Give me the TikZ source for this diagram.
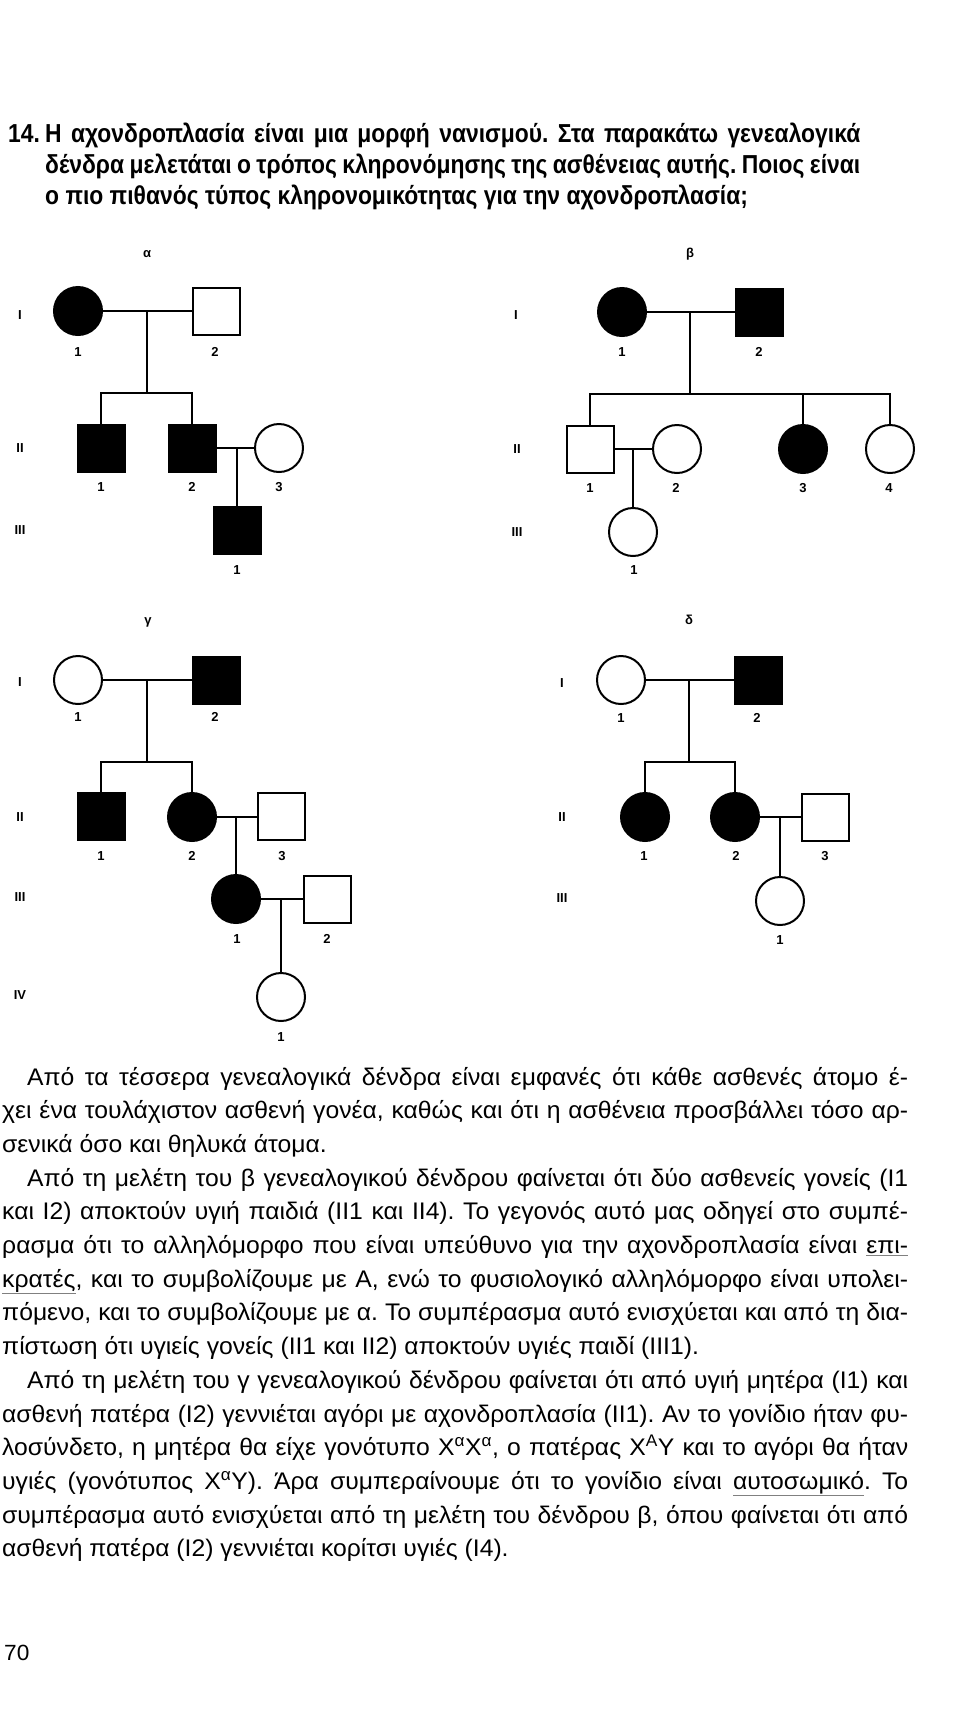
\documentclass[tikz,border=0pt]{standalone}
\usepackage{fontspec}
\usepackage{xcolor}
\usetikzlibrary{calc}
\newfontfamily\titlefont[FakeStretch=0.88]{Liberation Sans}
\newfontfamily\bodyfont[FakeStretch=1.03]{Liberation Sans}
\newfontfamily\labfont{Liberation Sans}
\newcommand\ulg[1]{{\color{gray}\underline{\color{black}#1}}}
\frenchspacing
\begin{document}
\begin{tikzpicture}[x=1pt,y=-1pt,
  pl/.style={line width=2pt},
  fem/.style={circle,draw,line width=2pt,minimum size=48pt,inner sep=0pt},
  mal/.style={rectangle,draw,line width=2pt,minimum size=47pt,inner sep=0pt},
  aff/.style={fill=black},
  una/.style={fill=white},
  num/.style={font=\labfont\bfseries\fontsize{13}{13}\selectfont,inner sep=0pt},
  gen/.style={font=\labfont\bfseries\fontsize{13}{13}\selectfont,inner sep=0pt},
  ttl/.style={font=\titlefont\bfseries\fontsize{26}{26}\selectfont,inner sep=0pt,anchor=base west},
  bdy/.style={font=\bodyfont\fontsize{24}{24}\selectfont,inner sep=0pt,anchor=base west}]
\useasboundingbox (0,0) rectangle (960,1724);
\fill[white] (0,0) rectangle (960,1724);

% ---------- title ----------
\node[ttl] (q0) at (8,142) {14.};
\node[ttl] (q1) at (45,142) {\makebox[815pt][s]{Η αχονδροπλασία είναι μια μορφή νανισμού. Στα παρακάτω γενεαλογικά}};
\node[ttl] (q2) at (45,173) {\makebox[815pt][s]{δένδρα μελετάται ο τρόπος κληρονόμησης της ασθένειας αυτής. Ποιος είναι}};
\node[ttl] (q3) at (45,204) {ο πιο πιθανός τύπος κληρονομικότητας για την αχονδροπλασία;};

% ---------- pedigree alpha ----------
\node[num] (la) at (147,254) {α};
\node[gen] (ga1) at (20,315) {I};
\node[gen] (ga2) at (20,448) {II};
\node[gen] (ga3) at (20,530) {III};
\node[fem,aff] (a11) at (78,311) {};
\node[mal,una] (a12) at (216,311) {};
\node[mal,aff] (a21) at (101,448) {};
\node[mal,aff] (a22) at (192,448) {};
\node[fem,una] (a23) at (279,448) {};
\node[mal,aff] (a31) at (237,530) {};
\coordinate (aM) at (147,311);
\coordinate (aS) at (147,393);
\draw[pl] (a11.east) -- (a12.west);
\draw[pl] (aM) -- (aS);
\draw[pl] (a21.north) |- (aS) -| (a22.north);
\draw[pl] (a22.east) -- (a23.west);
\draw[pl] (a31.north) -- (a31.north |- a22.east);
\node[num] (na11) at (78,352) {1};
\node[num] (na12) at (215,352) {2};
\node[num] (na21) at (101,487) {1};
\node[num] (na22) at (192,487) {2};
\node[num] (na23) at (279,487) {3};
\node[num] (na31) at (237,570) {1};

% ---------- pedigree beta ----------
\node[num] (lb) at (690,254) {β};
\node[gen] (gb1) at (516,315) {I};
\node[gen] (gb2) at (517,449) {II};
\node[gen] (gb3) at (517,532) {III};
\node[fem,aff] (b11) at (622,312) {};
\node[mal,aff] (b12) at (759,312) {};
\node[mal,una] (b21) at (590,449) {};
\node[fem,una] (b22) at (677,449) {};
\node[fem,aff] (b23) at (803,449) {};
\node[fem,una] (b24) at (890,449) {};
\node[fem,una] (b31) at (633,532) {};
\coordinate (bM) at (690,312);
\coordinate (bS) at (690,394);
\draw[pl] (b11.east) -- (b12.west);
\draw[pl] (bM) -- (bS);
\draw[pl] (b21.north) |- (bS) -| (b24.north);
\draw[pl] (b23.north) -- (b23.north |- bS);
\draw[pl] (b21.east) -- (b22.west);
\draw[pl] (b31.north) -- (b31.north |- b21.east);
\node[num] (nb11) at (622,352) {1};
\node[num] (nb12) at (759,352) {2};
\node[num] (nb21) at (590,488) {1};
\node[num] (nb22) at (676,488) {2};
\node[num] (nb23) at (803,488) {3};
\node[num] (nb24) at (889,488) {4};
\node[num] (nb31) at (634,570) {1};

% ---------- pedigree gamma ----------
\node[num] (lc) at (148,622) {γ};
\node[gen] (gc1) at (20,682) {I};
\node[gen] (gc2) at (20,817) {II};
\node[gen] (gc3) at (20,897) {III};
\node[gen] (gc4) at (20,995) {IV};
\node[fem,una] (c11) at (78,680) {};
\node[mal,aff] (c12) at (216,680) {};
\node[mal,aff] (c21) at (101,816) {};
\node[fem,aff] (c22) at (192,817) {};
\node[mal,una] (c23) at (281,816) {};
\node[fem,aff] (c31) at (236,899) {};
\node[mal,una] (c32) at (327,899) {};
\node[fem,una] (c41) at (281,997) {};
\coordinate (cM) at (147,680);
\coordinate (cS) at (147,762);
\draw[pl] (c11.east) -- (c12.west);
\draw[pl] (cM) -- (cS);
\draw[pl] (c21.north) |- (cS) -| (c22.north);
\draw[pl] (c22.east) -- (c23.west |- c22.east);
\draw[pl] (c31.north) -- (c31.north |- c22.east);
\draw[pl] (c31.east) -- (c32.west);
\draw[pl] (c41.north) -- (c41.north |- c31.east);
\node[num] (nc11) at (78,717) {1};
\node[num] (nc12) at (215,717) {2};
\node[num] (nc21) at (101,856) {1};
\node[num] (nc22) at (192,856) {2};
\node[num] (nc23) at (282,856) {3};
\node[num] (nc31) at (237,939) {1};
\node[num] (nc32) at (327,939) {2};
\node[num] (nc41) at (281,1037) {1};

% ---------- pedigree delta ----------
\node[num] (ld) at (689,620) {δ};
\node[gen] (gd1) at (562,683) {I};
\node[gen] (gd2) at (562,817) {II};
\node[gen] (gd3) at (562,898) {III};
\node[fem,una] (d11) at (621,680) {};
\node[mal,aff] (d12) at (758,680) {};
\node[fem,aff] (d21) at (645,817) {};
\node[fem,aff] (d22) at (735,817) {};
\node[mal,una] (d23) at (825,817) {};
\node[fem,una] (d31) at (780,901) {};
\coordinate (dM) at (689,680);
\coordinate (dS) at (689,762);
\draw[pl] (d11.east) -- (d12.west);
\draw[pl] (dM) -- (dS);
\draw[pl] (d21.north) |- (dS) -| (d22.north);
\draw[pl] (d22.east) -- (d23.west);
\draw[pl] (d31.north) -- (d31.north |- d22.east);
\node[num] (nd11) at (621,718) {1};
\node[num] (nd12) at (757,718) {2};
\node[num] (nd21) at (644,856) {1};
\node[num] (nd22) at (736,856) {2};
\node[num] (nd23) at (825,856) {3};
\node[num] (nd31) at (780,940) {1};

% ---------- body text ----------
\node[bdy] (t1) at (27,1085) {\makebox[881pt][s]{Από τα τέσσερα γενεαλογικά δένδρα είναι εμφανές ότι κάθε ασθενές άτομο έ-}};
\node[bdy] (t2) at (2,1118.7) {\makebox[906pt][s]{χει ένα τουλάχιστον ασθενή γονέα, καθώς και ότι η ασθένεια προσβάλλει τόσο αρ-}};
\node[bdy] (t3) at (2,1152.4) {σενικά όσο και θηλυκά άτομα.};
\node[bdy] (t4) at (27,1186.1) {\makebox[881pt][s]{Από τη μελέτη του β γενεαλογικού δένδρου φαίνεται ότι δύο ασθενείς γονείς (Ι1}};
\node[bdy] (t5) at (2,1219.8) {\makebox[906pt][s]{και Ι2) αποκτούν υγιή παιδιά (ΙΙ1 και ΙΙ4). Το γεγονός αυτό μας οδηγεί στο συμπέ-}};
\node[bdy] (t6) at (2,1253.5) {\makebox[906pt][s]{ρασμα ότι το αλληλόμορφο που είναι υπεύθυνο για την αχονδροπλασία είναι \ulg{επι-}}};
\node[bdy] (t7) at (2,1287.2) {\makebox[906pt][s]{\ulg{κρατές}, και το συμβολίζουμε με Α, ενώ το φυσιολογικό αλληλόμορφο είναι υπολει-}};
\node[bdy] (t8) at (2,1320.9) {\makebox[906pt][s]{πόμενο, και το συμβολίζουμε με α. Το συμπέρασμα αυτό ενισχύεται και από τη δια-}};
\node[bdy] (t9) at (2,1354.6) {πίστωση ότι υγιείς γονείς (ΙΙ1 και ΙΙ2) αποκτούν υγιές παιδί (ΙΙΙ1).};
\node[bdy] (t10) at (27,1388.3) {\makebox[881pt][s]{Από τη μελέτη του γ γενεαλογικού δένδρου φαίνεται ότι από υγιή μητέρα (Ι1) και}};
\node[bdy] (t11) at (2,1422.0) {\makebox[906pt][s]{ασθενή πατέρα (Ι2) γεννιέται αγόρι με αχονδροπλασία (ΙΙ1). Αν το γονίδιο ήταν φυ-}};
\node[bdy] (t12) at (2,1455.7) {\makebox[906pt][s]{λοσύνδετο, η μητέρα θα είχε γονότυπο Χ\textsuperscript{α}Χ\textsuperscript{α}, ο πατέρας Χ\textsuperscript{Α}Υ και το αγόρι θα ήταν}};
\node[bdy] (t13) at (2,1489.4) {\makebox[906pt][s]{υγιές (γονότυπος Χ\textsuperscript{α}Υ). Άρα συμπεραίνουμε ότι το γονίδιο είναι \ulg{αυτοσωμικό}. Το}};
\node[bdy] (t14) at (2,1523.1) {\makebox[906pt][s]{συμπέρασμα αυτό ενισχύεται από τη μελέτη του δένδρου β, όπου φαίνεται ότι από}};
\node[bdy] (t15) at (2,1556.8) {ασθενή πατέρα (Ι2) γεννιέται κορίτσι υγιές (Ι4).};

% ---------- page number ----------
\node[bdy,font=\bodyfont\fontsize{22}{22}\selectfont] (pg) at (4,1660) {70};
\end{tikzpicture}
\end{document}
